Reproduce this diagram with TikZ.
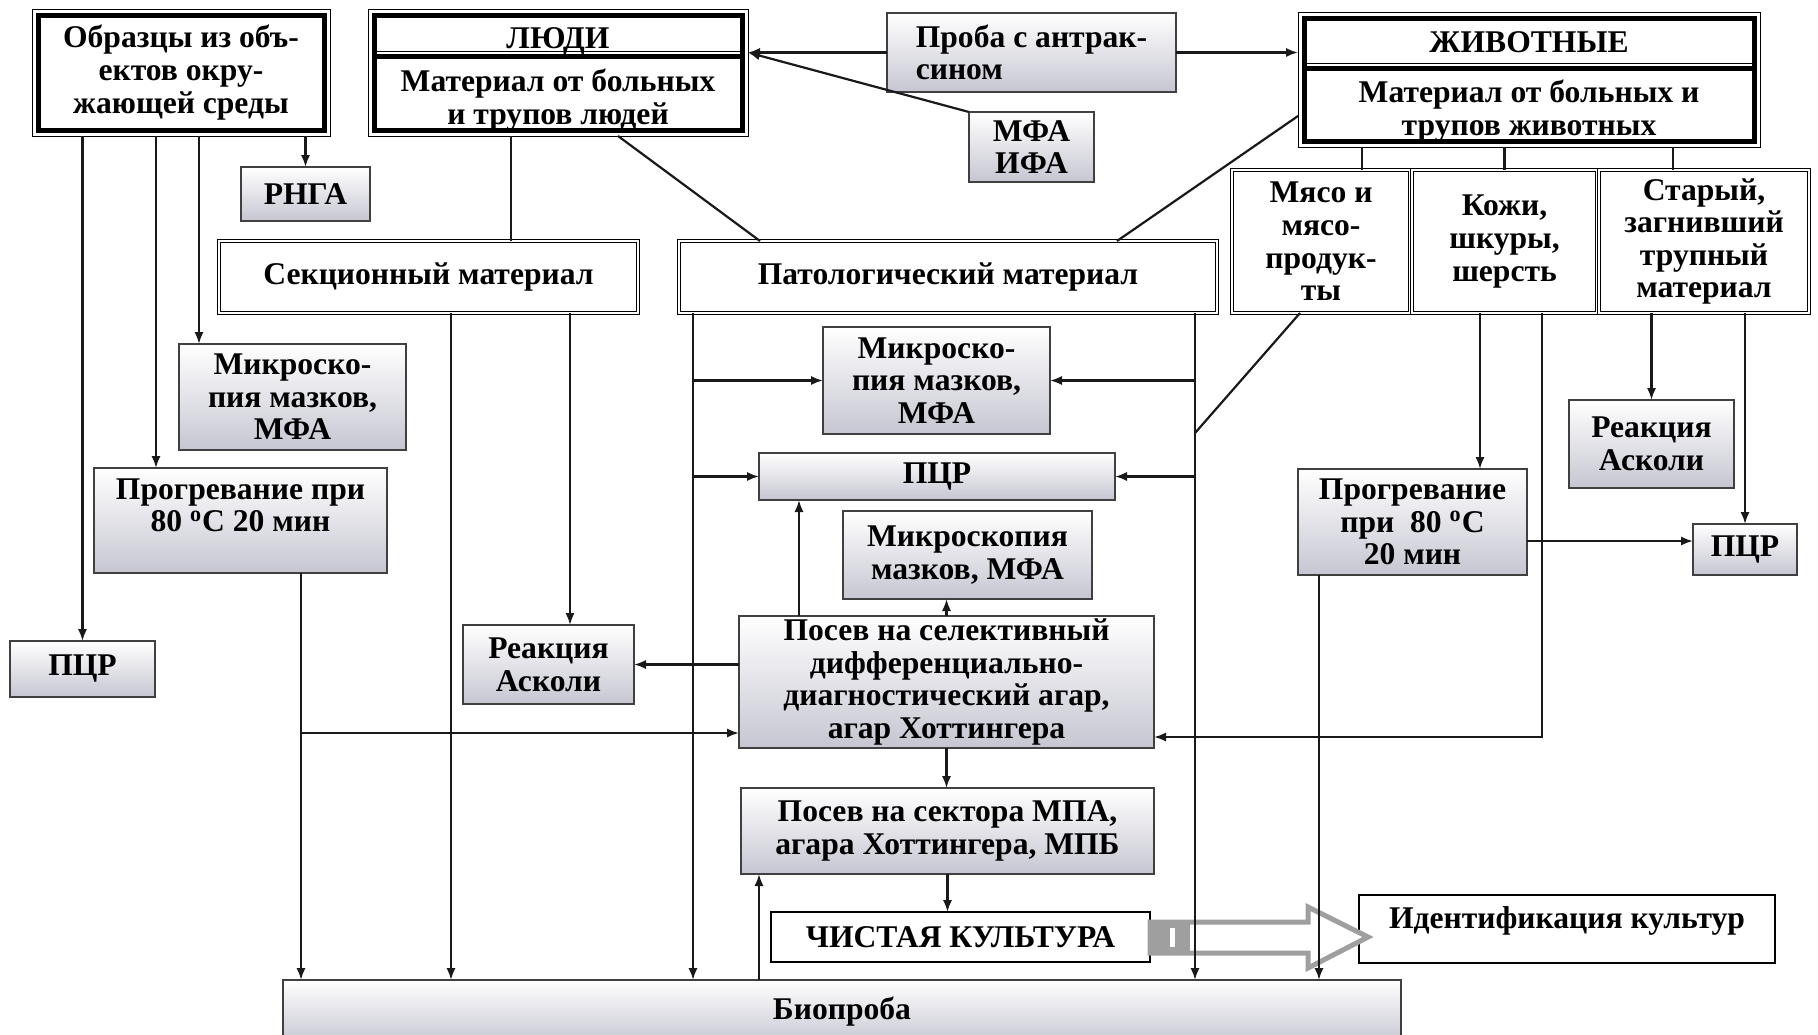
\documentclass[tikz,border=0pt]{standalone}
\usepackage{fontspec}
\setmainfont{Liberation Serif}
\usetikzlibrary{arrows.meta,calc}
\definecolor{gbot}{RGB}{198,198,210}
\newcommand\Bx[7]{\node[#1, minimum width={(#5-#3)*0.5pt}, minimum height={(#6-#4)*0.5pt}] (#2) at ({(#3+#5)/2},{(#4+#6)/2}) {#7};}
\begin{document}
\begin{tikzpicture}[x=0.5pt,y=-0.5pt,
  font=\bfseries\fontsize{15.8}{16.3}\selectfont,
  base/.style={align=center, inner sep=1pt, outer sep=0pt},
  gbox/.style={base, draw=black!75, line width=0.7pt, top color=white, bottom color=gbot},
  wbox/.style={base, draw=black, line width=0.5pt, double=white, double distance=1.2pt, fill=white},
  hbox/.style={base},
  kbox/.style={base, draw=black, line width=1.4pt, fill=white},
  txt/.style={base},
  ln/.style={draw=black!90, line width=1.1pt},
  arr/.style={ln, -{Latex[length=6pt,width=4.6pt]}},
  thickf/.style={line width=2.5pt},
  thinf/.style={line width=0.5pt}
]
\useasboundingbox (0,0) rectangle (1818,1034);
\fill[white] (0,0) rectangle (1818,1034);

% --- nodes
\Bx{hbox}{obr}{32}{9}{330}{136}{Образцы из объ-\\ектов окру-\\жающей среды}
\Bx{hbox}{ludi}{368}{9}{748}{136}{}
\node[txt] (ludih) at (558,41) {ЛЮДИ};
\node[txt] (ludib) at (558,100) {Материал от больных\\и трупов людей};
\Bx{gbox, align=left}{proba}{887}{13}{1176}{92}{Проба с антрак-\\сином}
\Bx{gbox}{mfa}{969}{112}{1094}{182}{МФА\\ИФА}
\Bx{hbox}{zhiv}{1298}{12}{1760}{147}{}
\node[txt] (zhivh) at (1529,42) {ЖИВОТНЫЕ};
\node[txt] (zhivb) at (1529,111) {Материал от больных и\\трупов животных};
\Bx{gbox}{rnga}{241}{167}{370}{221}{РНГА}
\Bx{wbox}{sek}{219}{241}{638}{313}{Секционный материал}
\Bx{wbox}{pat}{679}{241}{1217}{313}{Патологический материал}
\Bx{wbox}{myaso}{1232}{170}{1410}{313}{Мясо и\\мясо-\\продук-\\ты}
\Bx{wbox}{kozhi}{1412}{170}{1597}{313}{Кожи,\\шкуры,\\шерсть}
\Bx{wbox}{stary}{1599}{170}{1809}{313}{Старый,\\загнивший\\трупный\\материал}
\Bx{gbox}{micro1}{179}{344}{406}{450}{Микроско-\\пия мазков,\\МФА}
\Bx{gbox}{prog1}{94}{468}{387}{573}{Прогревание при\\80 \textsuperscript{o}C 20 мин\\[-6pt]\strut}
\Bx{gbox}{pcr1}{10}{641}{155}{697}{ПЦР}
\Bx{gbox}{asc1}{463}{625}{634}{704}{Реакция\\Асколи}
\Bx{gbox}{micro2}{823}{327}{1050}{434}{Микроско-\\пия мазков,\\МФА}
\Bx{gbox}{pcr2}{759}{453}{1115}{500}{ПЦР}
\Bx{gbox}{micro3}{843}{511}{1092}{599}{Микроскопия\\мазков, МФА}
\Bx{gbox}{posev}{739}{616}{1154}{748}{Посев на селективный\\дифференциально-\\диагностический агар,\\агар Хоттингера}
\Bx{gbox}{mpa}{741}{788}{1154}{874}{Посев на сектора МПА,\\агара Хоттингера, МПБ}
\Bx{kbox}{chist}{771}{912}{1150}{962}{ЧИСТАЯ КУЛЬТУРА}
\Bx{kbox}{ident}{1359}{895}{1775}{963}{Идентификация культур\\[-10pt]\strut}
\Bx{gbox}{bio}{283}{980}{1401}{1044}{Биопроба}
\Bx{gbox}{prog2}{1298}{469}{1527}{575}{Прогревание\\при~ 80 \textsuperscript{o}C\\20 мин}
\Bx{gbox}{asc2}{1569}{400}{1734}{488}{Реакция\\Асколи}
\Bx{gbox}{pcr3}{1693}{524}{1797}{575}{ПЦР}

% --- heavy frames
\foreach \n in {obr,ludi,zhiv}{
  \draw[thinf] (\n.north west) rectangle (\n.south east);
  \draw[thickf] ([shift={(3pt,-3pt)}]\n.north west) rectangle ([shift={(-3pt,3pt)}]\n.south east);
}
\coordinate (r51) at (0,51);
\coordinate (r56) at (0,56);
\coordinate (r63) at (0,63);
\coordinate (r68) at (0,68);
\draw[thinf, shorten <=3pt, shorten >=3pt] (ludi.west |- r51) -- (ludi.east |- r51);
\draw[thickf, shorten <=3pt, shorten >=3pt] (ludi.west |- r56) -- (ludi.east |- r56);
\draw[thinf, shorten <=3pt, shorten >=3pt] (zhiv.west |- r63) -- (zhiv.east |- r63);
\draw[thickf, shorten <=3pt, shorten >=3pt] (zhiv.west |- r68) -- (zhiv.east |- r68);

% --- block arrow
\draw[draw=gray!75, line width=2.5pt, fill=white, line join=miter]
  ($(chist.east)+(0,-15)$) -- ($(chist.east)+(158,-15)$) -- ($(chist.east)+(158,-30)$)
  -- ($(chist.east)+(218,0)$) -- ($(chist.east)+(158,31)$) -- ($(chist.east)+(158,16)$)
  -- ($(chist.east)+(0,16)$) -- cycle;
\fill[gray!75] ($(chist.east)+(0,-15)$) rectangle ($(chist.east)+(40,16)$);
\fill[white] ($(chist.east)+(20,-9)$) rectangle ($(chist.east)+(25,10)$);

% --- column / row coordinates
\foreach \x in {156,199,301,451,511,570,618,693,760,759,799,1117,1195,1300,1319,1362,1480,1542,1673}
  \coordinate (k\x) at (\x,0);
\coordinate (r116) at (0,116);
\coordinate (r541) at (0,541);
\coordinate (r733) at (0,733);
\coordinate (r737) at (0,737);
\coordinate (m433) at (1195,433);

% --- connectors from Образцы
\draw[arr] (obr.south -| pcr1.north) -- (pcr1.north);
\draw[arr] (obr.south -| k156) -- (prog1.north -| k156);
\draw[arr] (obr.south -| k199) -- (micro1.north -| k199);
\draw[arr] (obr.south -| rnga.north) -- (rnga.north);
% ЛЮДИ
\draw[ln] (ludi.south -| k511) -- (sek.north -| k511);
\draw[ln] (ludi.south -| k618) -- (pat.north -| k760);
\draw[arr] (proba.west) -- (proba.west -| ludi.east);
\draw[arr] (mfa.north west) -- (proba.west -| ludi.east);
\draw[arr] (proba.east) -- (proba.east -| zhiv.west);
% ЖИВОТНЫЕ
\draw[ln] (zhiv.west |- r116) -- (pat.north -| k1117);
\draw[ln] (zhiv.south -| k1362) -- (myaso.north -| k1362);
\draw[ln] (zhiv.south -| kozhi.north) -- (kozhi.north);
\draw[ln] (zhiv.south -| k1673) -- (stary.north -| k1673);
% Секционный
\draw[arr] (sek.south -| k451) -- (bio.north -| k451);
\draw[arr] (sek.south -| k570) -- (asc1.north -| k570);
% Патологический
\draw[arr] (pat.south -| k693) -- (bio.north -| k693);
\draw[arr] (micro2.west -| k693) -- (micro2.west);
\draw[arr] (pcr2.west -| k693) -- (pcr2.west);
\draw[arr] (pat.south -| k1195) -- (bio.north -| k1195);
\draw[arr] (micro2.east -| k1195) -- (micro2.east);
\draw[arr] (pcr2.east -| k1195) -- (pcr2.east);
% Мясо, Кожи, Старый
\draw[ln] (myaso.south -| k1300) -- (m433);
\draw[arr] (kozhi.south -| k1480) -- (prog2.north -| k1480);
\draw[arr] (kozhi.south -| k1542) |- (posev.east |- r737);
\draw[arr] (stary.south -| asc2.north) -- (asc2.north);
\draw[arr] (stary.south -| pcr3.north) -- (pcr3.north);
% Прогревание
\draw[arr] (prog2.east |- r541) -- (pcr3.west |- r541);
\draw[arr] (prog2.south -| k1319) -- (bio.north -| k1319);
\draw[arr] (prog1.south -| k301) -- (bio.north -| k301);
\draw[arr] (k301 |- r733) -- (posev.west |- r733);
% Посев
\draw[arr] (posev.west |- asc1.east) -- (asc1.east);
\draw[arr] (posev.north -| k799) -- (pcr2.south -| k799);
\draw[arr] (posev.north) -- (posev.north |- micro3.south);
\draw[arr] (posev.south) -- (posev.south |- mpa.north);
\draw[arr] (mpa.south) -- (mpa.south |- chist.north);
\draw[arr] (bio.north -| k759) -- (mpa.south -| k759);
\end{tikzpicture}
\end{document}
